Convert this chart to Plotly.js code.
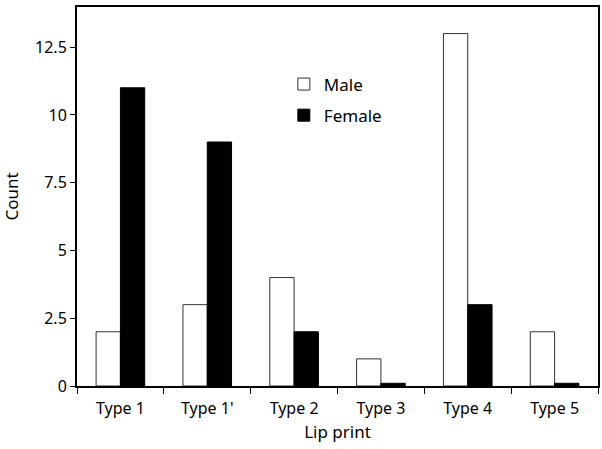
<!DOCTYPE html>
<html><head><meta charset="utf-8">
<script src="https://cdn.plot.ly/plotly-3.0.1.min.js"></script>
<style>body{margin:0;padding:0;background:#fff}#c{width:602px;height:449px}</style>
</head><body><div id="c"></div>
<script>
var categories = ["Type 1", "Type 1'", "Type 2", "Type 3", "Type 4", "Type 5"];
var maleCounts = [2, 3, 4, 1, 13, 2];
var femaleCounts = [11, 9, 2, 0.1, 3, 0.1];
var yTickVals = [0, 2.5, 5, 7.5, 10, 12.5];
var yTickText = ["0", "2.5", "5", "7.5", "10", "12.5"];

var fontFam = "Noto Sans, Open Sans, sans-serif";
var data = [
  {type:"bar", name:"Male", legendgroup:"m", x:categories, y:maleCounts,
   marker:{color:"#ffffff", line:{color:"#333333", width:1}}},
  {type:"bar", name:"Female", legendgroup:"f", x:categories, y:femaleCounts,
   marker:{color:"#000000", line:{color:"#000000", width:1}}}
];
var layout = {
  width:602, height:449,
  margin:{l:77, r:4, t:7, b:63},
  paper_bgcolor:"#fff", plot_bgcolor:"#fff",
  barmode:"group", bargap:0.44, bargroupgap:0,
  font:{family:fontFam, size:16, color:"#000"},
  showlegend:true,
  legend:{x:0.397, y:0.843, xanchor:"left", yanchor:"top", bgcolor:"rgba(0,0,0,0)",
          font:{size:17, family:fontFam}, traceorder:"grouped", tracegroupgap:6},
  xaxis:{showline:true, linecolor:"#000", linewidth:2, mirror:true,
         ticks:"outside", tickson:"boundaries", ticklen:6, tickcolor:"#000",
         ticklabelstandoff:7,
         showgrid:false, zeroline:false,
         title:{text:"Lip print", font:{size:17, family:fontFam}, standoff:8}},
  yaxis:{showline:true, linecolor:"#000", linewidth:2, mirror:true,
         range:[0, 13.98], tickvals:yTickVals, ticktext:yTickText,
         ticks:"outside", ticklen:5, tickcolor:"#000",
         showgrid:false, zeroline:false,
         title:{text:"Count", font:{size:17, family:fontFam}, standoff:12}}
};
Plotly.newPlot("c", data, layout, {displayModeBar:false, staticPlot:true});
</script></body></html>
